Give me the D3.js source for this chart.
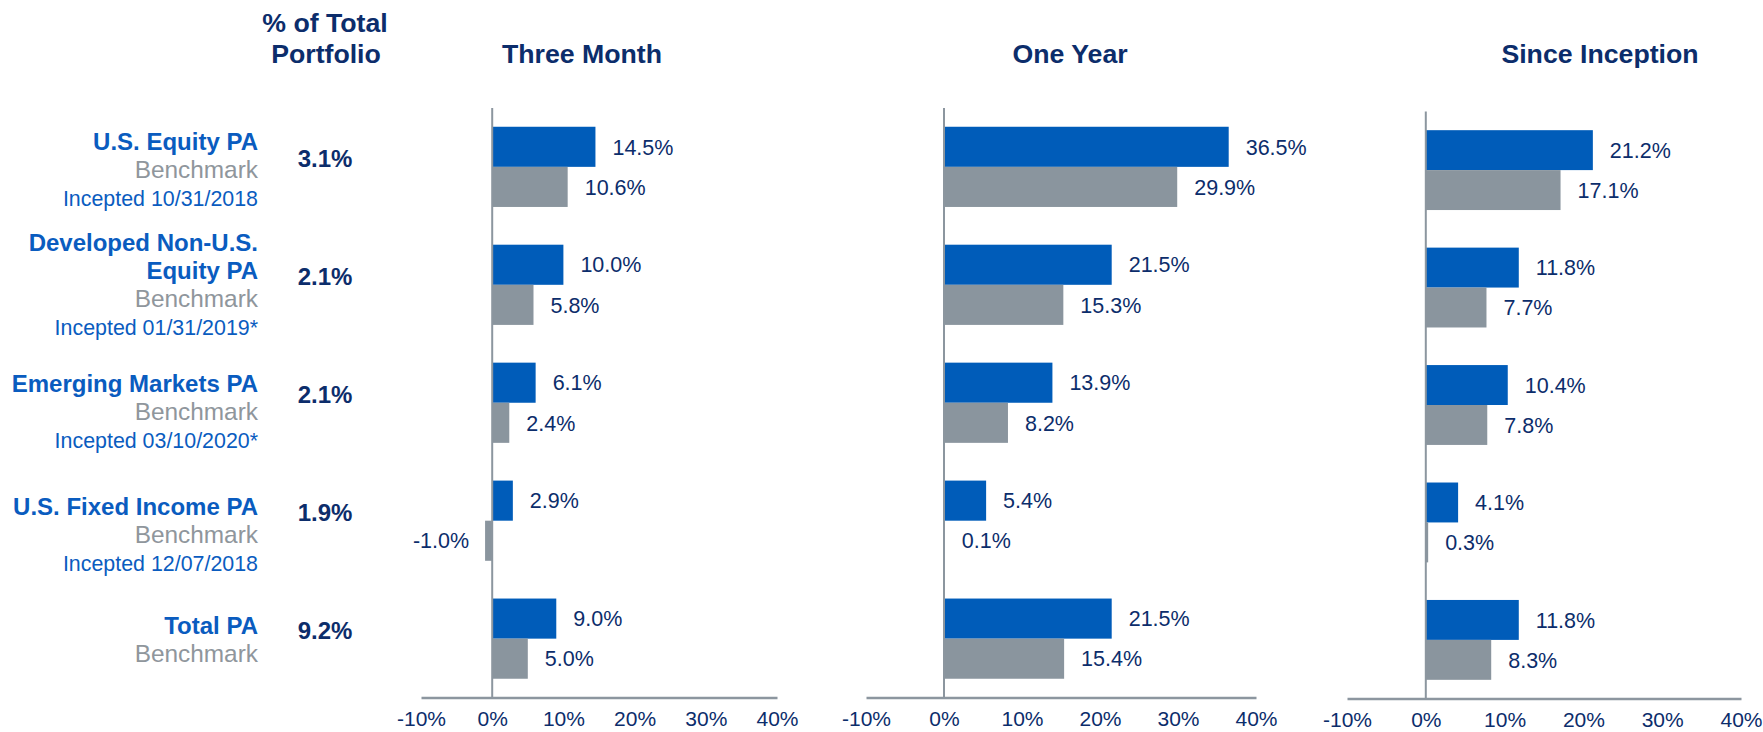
<!DOCTYPE html>
<html>
<head>
<meta charset="utf-8">
<script src="https://cdn.jsdelivr.net/npm/d3@7"></script>
<style>
  body { margin: 0; background: #fff; }
  svg { display: block; font-family: "Liberation Sans", Arial, sans-serif; }
</style>
</head>
<body>
<div id="chart"></div>
<script>
// Data
const categories = ["U.S. Equity PA", "Developed Non-U.S. Equity PA", "Emerging Markets PA", "U.S. Fixed Income PA", "Total PA"];
const nameLines = [["U.S. Equity PA"], ["Developed Non-U.S.", "Equity PA"], ["Emerging Markets PA"], ["U.S. Fixed Income PA"], ["Total PA"]];
const incepted = ["Incepted 10/31/2018", "Incepted 01/31/2019*", "Incepted 03/10/2020*", "Incepted 12/07/2018", null];
const portfolioPct = [3.1, 2.1, 2.1, 1.9, 9.2];

const periods = ["Three Month", "One Year", "Since Inception"];
const series = ["PA", "Benchmark"];

const threeMonthPA = [14.5, 10.0, 6.1, 2.9, 9.0];
const threeMonthBM = [10.6, 5.8, 2.4, -1.0, 5.0];
const oneYearPA = [36.5, 21.5, 13.9, 5.4, 21.5];
const oneYearBM = [29.9, 15.3, 8.2, 0.1, 15.4];
const sincePA = [21.2, 11.8, 10.4, 4.1, 11.8];
const sinceBM = [17.1, 7.7, 7.8, 0.3, 8.3];

const tickValues = [-10, 0, 10, 20, 30, 40];
const xDomain = [-10, 40];

// layout
const width = 1763, height = 732;
const panels = [
    { x0: 421, x1: 777, top: 108, bottom: 697.5, titleX: 582, pa: threeMonthPA, bm: threeMonthBM },
    { x0: 866, x1: 1256, top: 108, bottom: 697.5, titleX: 1070, pa: oneYearPA, bm: oneYearBM },
    { x0: 1347, x1: 1741, top: 111.5, bottom: 698.5, titleX: 1600, pa: sincePA, bm: sinceBM }
];
const labelNudge = [-2, -5, 4, 9, -4];

const navy = "#0c2d6b";
const barBlue = "#005cb9";
const barGray = "#8a959e";
const catBlue = "#0a5cbf";
const textGray = "#8f969c";
const axisGray = "#8c969f";

// plain hyphen for negatives, like the original
const fmt = v => (v < 0 ? "-" : "") + d3.format(".1f")(Math.abs(v)) + "%";

const svg = d3.select("#chart")
    .append("svg")
    .attr("width", width)
    .attr("height", height);

// row scale (shared with the left labels)
const rowY = d3.scaleBand()
    .domain(categories)
    .range([108, 697.5])
    .paddingInner(0.32)
    .paddingOuter(0.159);

// header on the left
svg.append("text")
    .attr("x", 325).attr("y", 32)
    .attr("text-anchor", "middle")
    .style("font-size", "26.7px").style("font-weight", "bold").attr("fill", navy)
    .text("% of Total");
svg.append("text")
    .attr("x", 326).attr("y", 63)
    .attr("text-anchor", "middle")
    .style("font-size", "26.7px").style("font-weight", "bold").attr("fill", navy)
    .text("Portfolio");

// left labels
categories.forEach((c, i) => {
    const lines = nameLines[i].map(t => ({ t, kind: "name" }));
    lines.push({ t: "Benchmark", kind: "bm" });
    if (incepted[i]) lines.push({ t: incepted[i], kind: "inc" });
    const center = rowY(c) + rowY.bandwidth() / 2 + 13 + labelNudge[i];
    const step = 28;
    const first = center - (lines.length - 1) * step / 2;
    lines.forEach((l, j) => {
        svg.append("text")
            .attr("x", 258)
            .attr("y", first + j * step)
            .attr("text-anchor", "end")
            .style("font-size", l.kind === "inc" ? "21.4px" : l.kind === "bm" ? "24.4px" : "24px")
            .style("font-weight", l.kind === "name" ? "bold" : "normal")
            .attr("fill", l.kind === "bm" ? textGray : catBlue)
            .text(l.t);
    });
    svg.append("text")
        .attr("x", 325)
        .attr("y", rowY(c) + rowY.bandwidth() / 2)
        .attr("text-anchor", "middle")
        .style("font-size", "24px").style("font-weight", "bold")
        .attr("fill", navy)
        .text(fmt(portfolioPct[i]));
});

// panels
panels.forEach((p, k) => {
    const g = svg.append("g");

    const x = d3.scaleLinear().domain(xDomain).range([p.x0, p.x1]);
    const y = d3.scaleBand()
        .domain(categories)
        .range([p.top, p.bottom])
        .paddingInner(0.32)
        .paddingOuter(0.159);
    const ySub = d3.scaleBand().domain(series).range([0, y.bandwidth()]);

    g.append("text")
        .attr("x", p.titleX).attr("y", 63)
        .attr("text-anchor", "middle")
        .style("font-size", "26.7px").style("font-weight", "bold").attr("fill", navy)
        .text(periods[k]);

    const rows = categories.map((c, i) => ({ c, PA: p.pa[i], Benchmark: p.bm[i] }));
    const cells = rows.flatMap(r => series.map(s => ({ c: r.c, s, v: r[s] })));

    g.append("g")
        .selectAll("rect")
        .data(cells)
        .join("rect")
        .attr("x", d => x(Math.min(0, d.v)))
        .attr("width", d => Math.abs(x(d.v) - x(0)))
        .attr("y", d => y(d.c) + ySub(d.s))
        .attr("height", ySub.bandwidth())
        .attr("fill", d => d.s === "PA" ? barBlue : barGray);

    g.append("g")
        .selectAll("text")
        .data(cells)
        .join("text")
        .attr("x", d => d.v < 0 ? x(d.v) - 16 : x(d.v) + 17)
        .attr("y", d => y(d.c) + ySub(d.s) + ySub.bandwidth() / 2)
        .attr("dy", "0.36em")
        .attr("text-anchor", d => d.v < 0 ? "end" : "start")
        .style("font-size", "21.5px")
        .attr("fill", navy)
        .text(d => fmt(d.v));

    // zero line
    g.append("line")
        .attr("x1", x(0)).attr("x2", x(0))
        .attr("y1", p.top).attr("y2", p.bottom)
        .attr("stroke", axisGray).attr("stroke-width", 2);

    // bottom axis
    const axis = g.append("g")
        .attr("transform", `translate(0,${p.bottom})`)
        .call(d3.axisBottom(x)
            .tickValues(tickValues)
            .tickSize(0)
            .tickSizeOuter(0)
            .tickPadding(14)
            .tickFormat(d => fmt(d).replace(".0", "")));
    axis.select(".domain").attr("stroke", axisGray).attr("stroke-width", 2.5);
    axis.selectAll("text")
        .style("font-size", "21px")
        .style("font-family", "\"Liberation Sans\", Arial, sans-serif")
        .attr("fill", navy);
});
</script>
</body>
</html>
